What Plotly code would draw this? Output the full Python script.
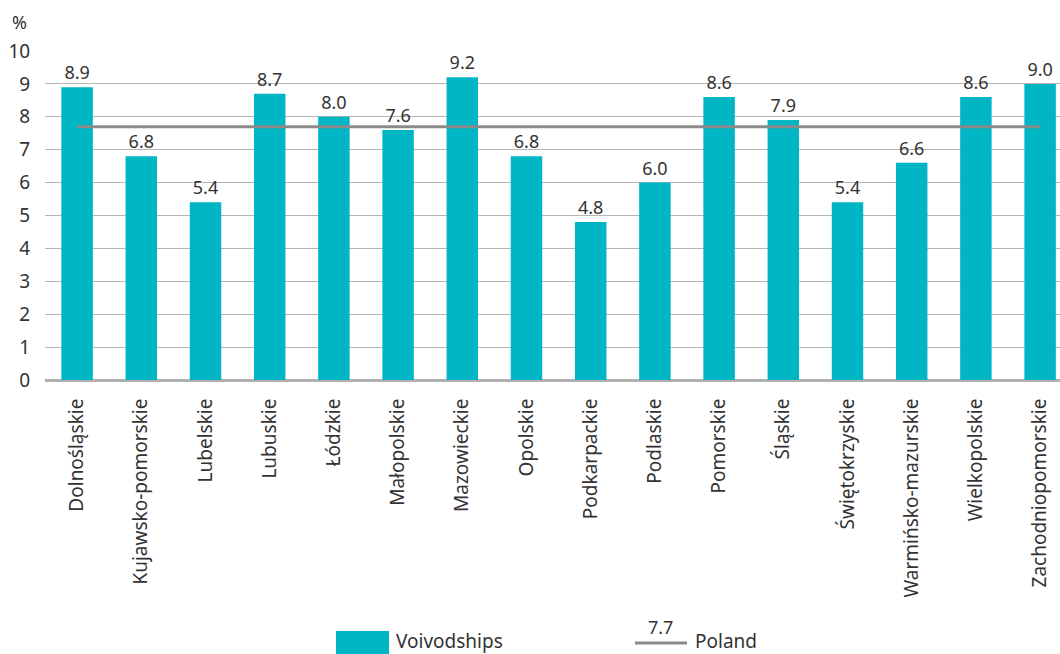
import plotly.graph_objects as go

categories = ["Dolnośląskie", "Kujawsko-pomorskie", "Lubelskie", "Lubuskie", "Łódzkie",
              "Małopolskie", "Mazowieckie", "Opolskie", "Podkarpackie", "Podlaskie",
              "Pomorskie", "Śląskie", "Świętokrzyskie", "Warmińsko-mazurskie",
              "Wielkopolskie", "Zachodniopomorskie"]
voivodships = [8.9, 6.8, 5.4, 8.7, 8.0, 7.6, 9.2, 6.8, 4.8, 6.0, 8.6, 7.9, 5.4, 6.6, 8.6, 9.0]
poland_value = 7.7
poland = [poland_value] * len(categories)
y_ticks = [0, 1, 2, 3, 4, 5, 6, 7, 8, 9, 10]

W, H = 1060, 654
L, R, T, B = 45, 0, 51, 274
pw, ph = W - L - R, H - T - B

def px(x):
    return (x - L) / pw

def py(y):
    return (H - B - y) / ph

FONT = "Noto Sans"
TXT = "#333333"
TEAL = "#00B5C4"
LINEC = "#8a8a8a"

fig = go.Figure()
fig.add_trace(go.Bar(x=categories, y=voivodships, marker_color=TEAL, marker_line_width=0,
                     texttemplate="%{y:.1f}", textposition="outside", cliponaxis=False,
                     textfont=dict(size=18, color=TXT, family=FONT), name="Voivodships"))
fig.add_trace(go.Scatter(x=categories, y=poland, mode="lines",
                         line=dict(color=LINEC, width=3), name="Poland"))

fig.update_layout(
    width=W, height=H,
    margin=dict(l=L, r=R, t=T, b=B),
    plot_bgcolor="white", paper_bgcolor="white",
    showlegend=False, bargap=0.51,
    font=dict(family=FONT, color=TXT, size=18),
    xaxis=dict(range=[-0.5, 15.31], tickangle=-90, showgrid=False,
               ticks="outside", ticklen=10, tickcolor="rgba(0,0,0,0)",
               tickfont=dict(size=19, color=TXT, family=FONT), showline=False),
    yaxis=dict(range=[0, 10], tickvals=y_ticks, showgrid=True, gridcolor="#b5b5b5",
               gridwidth=1.3, zeroline=True, zerolinecolor="#b0b0b0", zerolinewidth=2.5,
               ticks="outside", ticklen=10, tickcolor="rgba(0,0,0,0)",
               tickfont=dict(size=19, color=TXT, family=FONT)),
)

# "%" label
fig.add_annotation(x=px(19), y=py(22), xref="paper", yref="paper", text="%",
                   showarrow=False, xanchor="center", yanchor="middle",
                   font=dict(size=18, color=TXT, family=FONT))

# custom legend
fig.add_shape(type="rect", xref="paper", yref="paper", x0=px(336), x1=px(389),
              y0=py(654), y1=py(631), fillcolor=TEAL, line_width=0)
fig.add_annotation(x=px(394), y=py(641), xref="paper", yref="paper", text="Voivodships",
                   showarrow=False, xanchor="left", yanchor="middle",
                   font=dict(size=19, color=TXT, family=FONT))
fig.add_shape(type="line", xref="paper", yref="paper", x0=px(635), x1=px(687),
              y0=py(643), y1=py(643), line=dict(color=LINEC, width=3))
fig.add_annotation(x=px(660), y=py(627), xref="paper", yref="paper",
                   text=f"{poland_value:.1f}", showarrow=False, xanchor="center",
                   yanchor="middle", font=dict(size=18, color=TXT, family=FONT))
fig.add_annotation(x=px(693), y=py(641), xref="paper", yref="paper", text="Poland",
                   showarrow=False, xanchor="left", yanchor="middle",
                   font=dict(size=19, color=TXT, family=FONT))

fig.write_html("out.html", config={"displayModeBar": False},
               post_script="document.body.style.margin='0';document.body.style.overflow='hidden';")
